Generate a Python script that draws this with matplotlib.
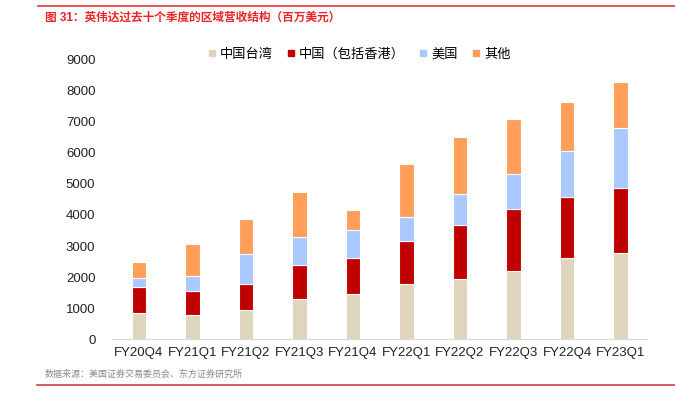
import numpy as np
import matplotlib
matplotlib.use("Agg")
import matplotlib.pyplot as plt
from matplotlib.lines import Line2D

plt.rcParams["font.family"] = ["Liberation Sans", "Noto Sans CJK SC", "DejaVu Sans"]

# ── Data (USD mn) ─────────────────────────────────────────────────────────────
quarters = ["FY20Q4", "FY21Q1", "FY21Q2", "FY21Q3", "FY21Q4",
            "FY22Q1", "FY22Q2", "FY22Q3", "FY22Q4", "FY23Q1"]
taiwan = [840, 785, 935, 1290, 1442, 1774, 1946, 2194, 2602, 2774]
china  = [830, 763, 849, 1097, 1161, 1387, 1731, 2010, 1989, 2086]
usa    = [310, 494, 958, 893, 913, 785, 1000, 1129, 1463, 1946]
other  = [500, 1013, 1130, 1460, 660, 1710, 1828, 1775, 1580, 1484]

series = [("中国台湾", taiwan, "#DFD5BE"),
          ("中国（包括香港）", china, "#C00000"),
          ("美国", usa, "#A9C9FF"),
          ("其他", other, "#FF9F5A")]

fig = plt.figure(figsize=(6.75, 3.97), dpi=100)
ax = fig.add_axes([0.166, 0.146, 0.793, 0.703])

x = np.arange(len(quarters))
bottom = np.zeros(len(quarters))
for name, vals, col in series:
    ax.bar(x, vals, width=0.27, bottom=bottom, color=col,
           edgecolor="white", linewidth=0.8, label=name)
    bottom += np.array(vals)

ax.set_xlim(-0.5, len(quarters) - 0.5)
ax.set_ylim(0, 9000)
ax.set_yticks(np.arange(0, 9001, 1000))
ax.set_xticks(x)
ax.set_xticklabels(quarters)
ax.tick_params(axis="both", length=0, labelsize=9.5, colors="#222222")
ax.tick_params(axis="y", pad=12)
ax.tick_params(axis="x", pad=6)
for s in ["top", "right", "left"]:
    ax.spines[s].set_visible(False)
ax.spines["bottom"].set_color("#D9D9D9")

handles = [Line2D([], [], marker="s", ls="none", color=c, markersize=4.5)
           for _, _, c in series]
fig.legend(handles, [n for n, _, _ in series], loc="center",
           bbox_to_anchor=(0.53, 0.862), ncol=4, frameon=False,
           fontsize=9.5, handletextpad=0.1, columnspacing=0.9,
           handlelength=1.0)

# title / source with the red rules
fig.add_artist(Line2D([0.056, 1.0], [0.985, 0.985], color="#E0383B", lw=1.2))
fig.text(0.066, 0.956, "图 31：英伟达过去十个季度的区域营收结构（百万美元）",
         color="#E8262A", fontsize=8.4, fontweight="bold", va="center")
fig.text(0.066, 0.057, "数据来源：美国证券交易委员会、东方证券研究所",
         color="#8C8C8C", fontsize=6.5, va="center")
fig.add_artist(Line2D([0.055, 1.0], [0.03, 0.03], color="#D04040", lw=1.2))

fig.savefig("out.png", dpi=100, facecolor="white")
